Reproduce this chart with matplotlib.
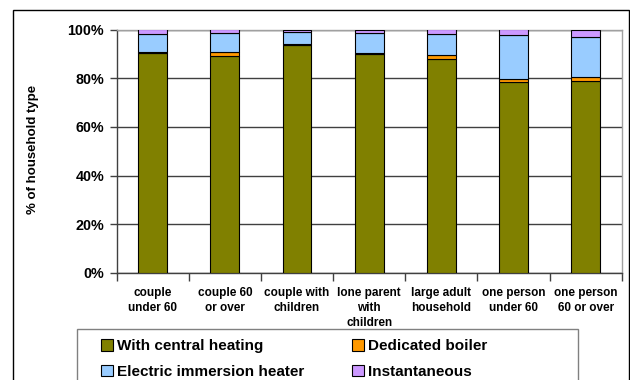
# -*- coding: utf-8 -*-

import numpy as np
import matplotlib
matplotlib.use('Agg')
import matplotlib.pyplot as plt
from matplotlib.patches import Patch, Rectangle

categories = ['couple\nunder 60', 'couple 60\nor over', 'couple with\nchildren',
              'lone parent\nwith\nchildren', 'large adult\nhousehold',
              'one person\nunder 60', 'one person\n60 or over']
central_heating = [90.2, 89.3, 93.7, 90.1, 88.0, 78.4, 78.8]
dedicated_boiler = [0.7, 1.5, 0.5, 0.3, 1.6, 1.4, 1.7]
immersion_heater = [7.4, 7.9, 4.8, 8.3, 8.7, 18.0, 16.5]
instantaneous = [1.7, 1.3, 1.0, 1.3, 1.7, 2.2, 3.0]

series_names = ['With central heating', 'Dedicated boiler',
                'Electric immersion heater', 'Instantaneous']
colors = ['#808000', '#FF9900', '#99CCFF', '#CC99FF']
y_ticks = [0, 20, 40, 60, 80, 100]

plt.rcParams['font.family'] = ['Liberation Sans', 'DejaVu Sans']
plt.rcParams['font.weight'] = 'bold'

fig = plt.figure(figsize=(6.3, 3.8), dpi=100)

# outer chart frame
fig.patches.append(Rectangle((12.5 / 630, -0.2), 616.5 / 630, 1.2 - 9.5 / 380,
                             transform=fig.transFigure, fill=False,
                             edgecolor='black', linewidth=1.0))

ax = fig.add_axes([116.7 / 630, 1 - 273 / 380, 505 / 630, 243.5 / 380])

x = np.arange(len(categories))
data = [central_heating, dedicated_boiler, immersion_heater, instantaneous]
bottom = np.zeros(len(categories))
for vals, col in zip(data, colors):
    ax.bar(x, vals, width=0.40, bottom=bottom, color=col,
           edgecolor='black', linewidth=0.8, zorder=3)
    bottom += np.array(vals)

ax.set_xlim(-0.5, len(categories) - 0.5)
ax.set_ylim(0, 100)
ax.set_yticks(y_ticks)
ax.set_yticklabels(['%d%%' % v for v in y_ticks], fontsize=10.3, fontweight='bold')
ax.yaxis.grid(True, color='#404040', linewidth=1.0, zorder=0)
ax.tick_params(axis='y', direction='out', length=5, width=1, color='#404040', pad=4)

ax.set_xticks(x)
ax.set_xticklabels(categories, fontsize=8.5, fontweight='bold', linespacing=1.35)
ax.set_xticks(np.arange(-0.5, len(categories)), minor=True)
ax.tick_params(axis='x', which='major', length=0, pad=10)
ax.tick_params(axis='x', which='minor', direction='out', length=6, width=1, color='#404040')

for side in ['top', 'right']:
    ax.spines[side].set_color('#a0a0a0')
    ax.spines[side].set_linewidth(1.0)
for side in ['left', 'bottom']:
    ax.spines[side].set_color('#404040')
    ax.spines[side].set_linewidth(1.0)

# y axis title, placed in figure pixels like the original
fig.text(33 / 630, 1 - 149 / 380, '% of household type', rotation=90,
         ha='center', va='center', fontsize=9.5, fontweight='bold')

# legend frame
fig.patches.append(Rectangle((77 / 630, -0.2), 501 / 630, 0.2 + 1 - 329 / 380,
                             transform=fig.transFigure, fill=False,
                             edgecolor='#808080', linewidth=1.0))

handles = [Patch(facecolor=c, edgecolor='black', linewidth=0.8) for c in colors]
order = [0, 2, 1, 3]
fig.legend([handles[i] for i in order], [series_names[i] for i in order],
           ncol=2, loc='upper left', bbox_to_anchor=(101 / 630, 1 - 339 / 380),
           frameon=False, prop={'size': 11, 'weight': 'bold'},
           handlelength=0.8, handleheight=0.8, handletextpad=0.25,
           columnspacing=3.1, labelspacing=0.75, borderpad=0, borderaxespad=0)

plt.savefig('out.png', dpi=100)
